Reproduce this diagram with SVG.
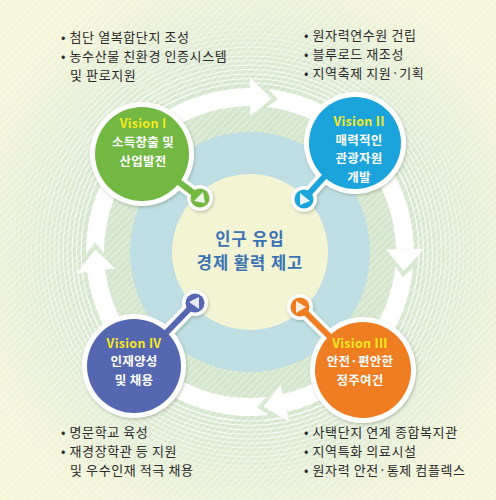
<svg xmlns="http://www.w3.org/2000/svg" width="496" height="500" viewBox="0 0 496 500">
<defs>
<radialGradient id="bg" gradientUnits="userSpaceOnUse" cx="250" cy="252" r="300">
<stop offset="0" stop-color="#d4e6cc"/>
<stop offset="0.55" stop-color="#d4e6cc"/>
<stop offset="0.72" stop-color="#e2edd3"/>
<stop offset="0.9" stop-color="#f1f4d8"/>
<stop offset="1" stop-color="#f5f5d8"/>
</radialGradient>
<pattern id="stripes" width="5" height="5" patternUnits="userSpaceOnUse" patternTransform="rotate(-45)">
<rect width="5" height="1.4" fill="#ffffff" opacity="0.35"/>
</pattern>
<filter id="sh" x="-30%" y="-30%" width="160%" height="160%">
<feDropShadow dx="1" dy="1.5" stdDeviation="1.6" flood-color="#5a6a50" flood-opacity="0.35"/>
</filter>
<style>
.bl{font-family:"Noto Sans CJK KR","Noto Sans",sans-serif;font-size:13px;letter-spacing:0.6px;fill:#2a2a2a}
.bt{font-family:"Noto Sans CJK KR","Noto Sans",sans-serif;font-size:12.5px;letter-spacing:0.3px;font-weight:700;fill:#ffffff;text-anchor:middle}
.vl{font-family:"Noto Sans CJK KR","Noto Sans",sans-serif;font-size:12.5px;letter-spacing:0.3px;font-weight:700;fill:#f6ea1c;text-anchor:middle}
.ct{font-family:"Noto Sans CJK KR","Noto Sans",sans-serif;font-size:16.5px;letter-spacing:1px;font-weight:700;fill:#3b72b3;text-anchor:middle}
.ring{fill:none;stroke:#ffffff;stroke-width:1.1}
.band{fill:#ffffff}
</style>
</defs>
<rect width="496" height="500" fill="url(#bg)"/>
<rect width="496" height="500" fill="url(#stripes)"/>
<g id="grooves">
<circle class="ring" cx="250" cy="252" r="169" opacity="0.9"/>
<circle class="ring" cx="250" cy="252" r="173.5" opacity="0.85"/>
<circle class="ring" cx="250" cy="252" r="178" opacity="0.8"/>
<circle class="ring" cx="250" cy="252" r="182.5" opacity="0.75"/>
<circle class="ring" cx="250" cy="252" r="187" opacity="0.7"/>
<circle class="ring" cx="250" cy="252" r="191.5" opacity="0.65"/>
<circle class="ring" cx="250" cy="252" r="196" opacity="0.6"/>
<circle class="ring" cx="250" cy="252" r="200.5" opacity="0.55"/>
<circle class="ring" cx="250" cy="252" r="205" opacity="0.5"/>
<circle class="ring" cx="250" cy="252" r="209.5" opacity="0.45"/>
<circle class="ring" cx="250" cy="252" r="214" opacity="0.4"/>
<circle class="ring" cx="250" cy="252" r="218.5" opacity="0.35"/>
<circle class="ring" cx="250" cy="252" r="223" opacity="0.3"/>
<circle class="ring" cx="250" cy="252" r="227.5" opacity="0.26"/>
<circle class="ring" cx="250" cy="252" r="232" opacity="0.22"/>
<circle class="ring" cx="250" cy="252" r="236.5" opacity="0.18"/>
<circle class="ring" cx="250" cy="252" r="241" opacity="0.14"/>
<circle class="ring" cx="250" cy="252" r="245.5" opacity="0.1"/>
</g>
<circle cx="250" cy="252" r="120" fill="#bedee4"/>
<circle cx="250" cy="252" r="78" fill="#f2f4d4"/>
<g id="connectors">
<path class="band" d="M86,253.4 A164,164 0 0 1 250,88 L250,106 A146,146 0 0 0 104,253.3 L95.3,242.5 Z"/>
<polygon class="band" points="250,116 250,78 271.6,98.5"/>
<path class="band" d="M268.6,89.05 A164,164 0 0 1 414,249.1 L396,249.5 A146,146 0 0 0 266.5,106.9 L278.2,99.6 Z"/>
<polygon class="band" points="386,249.6 424,249 403.8,270.9"/>
<path class="band" d="M413.2,267.7 A164,164 0 0 1 286.9,411.8 L282.8,394.3 A146,146 0 0 0 395.3,266 L402.9,277.6 Z"/>
<polygon class="band" points="280.6,384.5 289.1,421.5 263.5,406.4"/>
<path class="band" d="M268.6,415 A164,164 0 0 1 87.2,272 L105.1,269.8 A146,146 0 0 0 266.5,397.1 L256.8,406.9 Z"/>
<polygon class="band" points="115,268.6 77.3,273.2 95,249.3"/>
</g>
<g id="center">
<text class="ct" x="250" y="245">인구 유입</text>
<text class="ct" x="250" y="269">경제 활력 제고</text>
</g>
<g id="vision1">
<g filter="url(#sh)">
<line x1="142" y1="154" x2="200" y2="198" stroke="#ffffff" stroke-width="13"/>
<circle cx="142" cy="154" r="52" fill="#ffffff"/>
<circle cx="200" cy="198" r="13" fill="#ffffff"/>
</g>
<line x1="142" y1="154" x2="200" y2="198" stroke="#72b843" stroke-width="6"/>
<circle cx="142" cy="154" r="47" fill="#72b843"/>
<circle cx="200" cy="198" r="9.5" fill="#72b843"/>
<polygon points="205,203 194,201 203,192" fill="#eef6e6"/>
<text class="vl" x="143" y="128">Vision I</text>
<text class="bt" x="143" y="147">소득창출 및</text>
<text class="bt" x="143" y="166">산업발전</text>
</g>
<g id="vision2">
<g filter="url(#sh)">
<line x1="355" y1="143" x2="304" y2="199" stroke="#ffffff" stroke-width="13"/>
<circle cx="355" cy="143" r="51" fill="#ffffff"/>
<circle cx="304" cy="199" r="13" fill="#ffffff"/>
</g>
<line x1="355" y1="143" x2="304" y2="199" stroke="#1ba4dc" stroke-width="6"/>
<circle cx="355" cy="143" r="46" fill="#1ba4dc"/>
<circle cx="304" cy="199" r="9.5" fill="#1ba4dc"/>
<polygon points="300,193 310,201 300,205" fill="#e6f4fb"/>
<text class="vl" x="359" y="126">Vision II</text>
<text class="bt" x="359" y="144.5">매력적인</text>
<text class="bt" x="359" y="163">관광자원</text>
<text class="bt" x="359" y="181.5">개발</text>
</g>
<g id="vision3">
<g filter="url(#sh)">
<line x1="363" y1="370" x2="300" y2="307" stroke="#ffffff" stroke-width="13"/>
<circle cx="363" cy="370" r="53" fill="#ffffff"/>
<circle cx="300" cy="307" r="13" fill="#ffffff"/>
</g>
<line x1="363" y1="370" x2="300" y2="307" stroke="#ef7d22" stroke-width="6"/>
<circle cx="363" cy="370" r="48" fill="#ef7d22"/>
<circle cx="300" cy="307" r="9.5" fill="#ef7d22"/>
<polygon points="296,301 306,307 296,313" fill="#fdeee0"/>
<text class="vl" x="360" y="347.5">Vision III</text>
<text class="bt" x="360" y="366">안전·편안한</text>
<text class="bt" x="360" y="384.5">정주여건</text>
</g>
<g id="vision4">
<g filter="url(#sh)">
<line x1="134" y1="366" x2="195" y2="303" stroke="#ffffff" stroke-width="13"/>
<circle cx="134" cy="366" r="52" fill="#ffffff"/>
<circle cx="195" cy="303" r="13" fill="#ffffff"/>
</g>
<line x1="134" y1="366" x2="195" y2="303" stroke="#5567b0" stroke-width="6"/>
<circle cx="134" cy="366" r="47" fill="#5567b0"/>
<circle cx="195" cy="303" r="9.5" fill="#5567b0"/>
<polygon points="199,297 199,309 189,302" fill="#e8ebf6"/>
<text class="vl" x="134" y="347.5">Vision IV</text>
<text class="bt" x="134" y="366">인재양성</text>
<text class="bt" x="134" y="384.5">및 채용</text>
</g>
<g id="list1">
<text class="bl" x="61" y="42">• 첨단 열복합단지 조성</text>
<text class="bl" x="61" y="61">• 농수산물 친환경 인증시스템</text>
<text class="bl" x="70" y="80">및 판로지원</text>
</g>
<g id="list2">
<text class="bl" x="304" y="40">• 원자력연수원 건립</text>
<text class="bl" x="304" y="59">• 블루로드 재조성</text>
<text class="bl" x="304" y="78">• 지역축제 지원·기획</text>
</g>
<g id="list4">
<text class="bl" x="61" y="437">• 명문학교 육성</text>
<text class="bl" x="61" y="456">• 재경장학관 등 지원</text>
<text class="bl" x="70" y="475">및 우수인재 적극 채용</text>
</g>
<g id="list3">
<text class="bl" x="304" y="437">• 사택단지 연계 종합복지관</text>
<text class="bl" x="304" y="456">• 지역특화 의료시설</text>
<text class="bl" x="304" y="475">• 원자력 안전·통제 컴플렉스</text>
</g>
</svg>
